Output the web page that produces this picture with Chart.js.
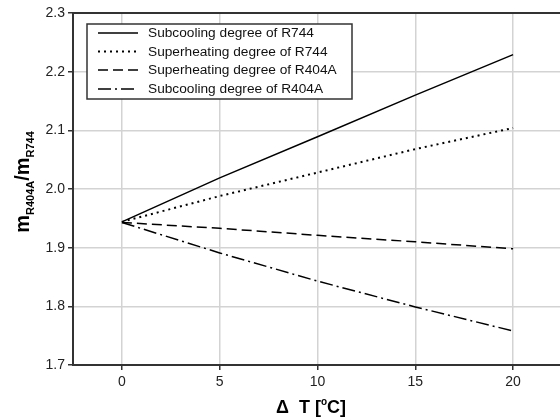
<!DOCTYPE html>
<html>
<head>
<meta charset="utf-8">
<script src="https://cdn.jsdelivr.net/npm/chart.js@4"></script>
<style>
    html, body { margin: 0; padding: 0; background: #fff; overflow: hidden; width: 560px; height: 419px; }
</style>
</head>
<body>
<canvas id="chart1" width="570" height="419"></canvas>
<script>
// chart data
const deltaT = [0, 5, 10, 15, 20];
const subcoolR744 = [1.944, 2.019, 2.089, 2.160, 2.229];
const superheatR744 = [1.944, 1.988, 2.028, 2.068, 2.104];
const superheatR404A = [1.943, 1.933, 1.921, 1.910, 1.898];
const subcoolR404A = [1.943, 1.891, 1.843, 1.799, 1.758];

const seriesNames = [
    'Subcooling degree of R744',
    'Superheating degree of R744',
    'Superheating degree of R404A',
    'Subcooling degree of R404A'
];

const xTicks = [0, 5, 10, 15, 20];
const yTicks = [1.7, 1.8, 1.9, 2.0, 2.1, 2.2, 2.3];

const fontFamily = '"Liberation Sans", Arial, sans-serif';
const dashes = [[], [2, 4], [10, 5], [13, 4, 2, 4]];
const widths = [1.5, 2, 1.5, 1.5];

function toPoints(values) {
    return values.map(function (v, i) {
        return { x: deltaT[i], y: v };
    });
}

// legend box drawn inside the plot, framed like the original
const boxLegend = {
    id: 'boxLegend',
    afterDraw: function (chart) {
        const ctx = chart.ctx;
        ctx.save();
        ctx.fillStyle = '#fff';
        ctx.fillRect(87, 24, 265, 75);
        ctx.strokeStyle = '#333';
        ctx.lineWidth = 1.5;
        ctx.strokeRect(87, 24, 265, 75);
        ctx.font = '13.7px ' + fontFamily;
        ctx.textBaseline = 'middle';
        const rows = [33, 51.5, 70, 89];
        chart.data.datasets.forEach(function (ds, i) {
            ctx.beginPath();
            ctx.strokeStyle = '#000';
            ctx.lineWidth = ds.borderWidth;
            ctx.setLineDash(ds.borderDash);
            ctx.moveTo(98, rows[i]);
            ctx.lineTo(138, rows[i]);
            ctx.stroke();
            ctx.setLineDash([]);
            ctx.fillStyle = '#111';
            ctx.fillText(ds.label, 148, rows[i] + 0.5);
        });
        ctx.restore();
    }
};

// frame on top and axis titles with sub/superscripts
const frameAndTitles = {
    id: 'frameAndTitles',
    afterDraw: function (chart) {
        const ctx = chart.ctx;
        const area = chart.chartArea;
        ctx.save();
        ctx.strokeStyle = '#333';
        ctx.lineWidth = 2;
        ctx.beginPath();
        ctx.moveTo(area.left, area.top);
        ctx.lineTo(area.right, area.top);
        ctx.lineTo(area.right, area.bottom);
        ctx.stroke();

        ctx.fillStyle = '#000';
        ctx.textBaseline = 'alphabetic';

        // y title
        ctx.save();
        ctx.translate(29, 182);
        ctx.rotate(-Math.PI / 2);
        const big = 'bold 20px ' + fontFamily;
        const small = 'bold 11px ' + fontFamily;
        const parts = [['m', big, 0], ['R404A', small, 5], ['/m', big, 0], ['R744', small, 5]];
        let total = 0;
        parts.forEach(function (p) { ctx.font = p[1]; total += ctx.measureText(p[0]).width; });
        let x = -total / 2;
        parts.forEach(function (p) {
            ctx.font = p[1];
            ctx.fillText(p[0], x, p[2]);
            x += ctx.measureText(p[0]).width;
        });
        ctx.restore();

        // x title
        const xparts = [['\u0394  T [', 'bold 18px ' + fontFamily, 0], ['o', 'bold 10px ' + fontFamily, -8], ['C]', 'bold 18px ' + fontFamily, 0]];
        let xt = 0;
        xparts.forEach(function (p) { ctx.font = p[1]; xt += ctx.measureText(p[0]).width; });
        let xx = 311 - xt / 2;
        xparts.forEach(function (p) {
            ctx.font = p[1];
            ctx.fillText(p[0], xx, 413 + p[2]);
            xx += ctx.measureText(p[0]).width;
        });
        ctx.restore();
    }
};

const allSeries = [subcoolR744, superheatR744, superheatR404A, subcoolR404A];

const ctx = document.getElementById('chart1');
const myChart = new Chart(ctx, {
    type: 'line',
    data: {
        datasets: allSeries.map(function (values, i) {
            return {
                label: seriesNames[i],
                data: toPoints(values),
                borderColor: '#000',
                borderWidth: widths[i],
                borderDash: dashes[i],
                pointRadius: 0,
                fill: false,
                tension: 0
            };
        })
    },
    options: {
        responsive: false,
        animation: false,
        layout: { padding: { top: 13, right: 8, left: 0, bottom: 0 } },
        plugins: {
            legend: { display: false },
            tooltip: { enabled: false }
        },
        scales: {
            x: {
                type: 'linear',
                min: -2.5,
                max: 22.5,
                afterBuildTicks: function (axis) {
                    axis.ticks = xTicks.map(function (v) { return { value: v }; });
                },
                afterFit: function (axis) { axis.height = 54; },
                grid: {
                    color: '#d3d3d3',
                    lineWidth: 1.5,
                    tickColor: '#333',
                    tickLength: 5
                },
                border: { color: '#333', width: 2 },
                ticks: {
                    color: '#222',
                    padding: 4,
                    maxRotation: 0,
                    font: { family: fontFamily, size: 14 }
                }
            },
            y: {
                type: 'linear',
                min: 1.7,
                max: 2.3,
                afterBuildTicks: function (axis) {
                    axis.ticks = yTicks.map(function (v) { return { value: v }; });
                },
                afterFit: function (axis) { axis.width = 73; },
                grid: {
                    color: '#d3d3d3',
                    lineWidth: 1.5,
                    tickColor: '#333',
                    tickLength: 5
                },
                border: { color: '#333', width: 2 },
                ticks: {
                    color: '#222',
                    padding: 3,
                    font: { family: fontFamily, size: 14 },
                    callback: function (value) { return value.toFixed(1); }
                }
            }
        }
    },
    plugins: [boxLegend, frameAndTitles]
});
</script>
</body>
</html>
